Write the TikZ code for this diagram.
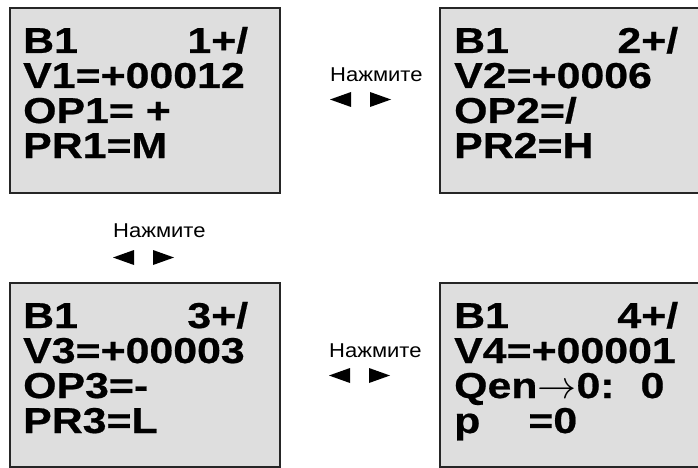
\documentclass[tikz,border=0pt]{standalone}
\usepackage{graphicx}
\usepackage{fontspec}
\setmainfont{Liberation Sans}
\newfontfamily\lcdfont{Liberation Sans}[FakeStretch=1.19, BoldFeatures={FakeBold=0.6}]
\newfontfamily\pressfont{Liberation Sans}[FakeStretch=1.1]
\usetikzlibrary{calc}

\tikzset{
  screen/.style={draw=black!85, line width=1.5pt, fill=black!13, minimum height=185pt,
    anchor=north west, inner sep=0pt, outer sep=0pt},
  lcdline/.style={anchor=base west, inner sep=0pt, font=\lcdfont\bfseries\fontsize{36}{36}\selectfont},
  presslabel/.style={anchor=base west, inner sep=0pt, font=\pressfont\fontsize{20}{20}\selectfont},
}
\newcommand\lcdarrow{\smash{\scalebox{3.9}{\normalsize$\rightarrow$}}}

\begin{document}
\begin{tikzpicture}[x=1pt,y=-1pt]
\useasboundingbox (0,0) rectangle (698,468);

% screens
\node[screen, minimum width=270pt] (scr1) at (10,8) {};
\node[screen, minimum width=264pt] (scr2) at (440,8) {};
\node[screen, minimum width=270pt, minimum height=184pt] (scr3) at (10,283) {};
\node[screen, minimum width=264pt, minimum height=184pt] (scr4) at (440,283) {};

% screen 1
\node[lcdline] (s1r1) at ($(scr1.north west)+(13,45)$) {\makebox[225pt][l]{B1\hfill1+/}};
\node[lcdline] (s1r2) at ($(scr1.north west)+(13,80)$) {V1=+00012};
\node[lcdline] (s1r3) at ($(scr1.north west)+(13,115)$) {OP1= +};
\node[lcdline] (s1r4) at ($(scr1.north west)+(13,150)$) {PR1=M};

% screen 2
\node[lcdline] (s2r1) at ($(scr2.north west)+(14,45)$) {\makebox[224pt][l]{B1\hfill2+/}};
\node[lcdline] (s2r2) at ($(scr2.north west)+(14,80)$) {V2=+0006};
\node[lcdline] (s2r3) at ($(scr2.north west)+(14,115)$) {OP2=/};
\node[lcdline] (s2r4) at ($(scr2.north west)+(14,150)$) {PR2=H};

% screen 3
\node[lcdline] (s3r1) at ($(scr3.north west)+(13,45)$) {\makebox[225pt][l]{B1\hfill3+/}};
\node[lcdline] (s3r2) at ($(scr3.north west)+(13,80)$) {V3=+00003};
\node[lcdline] (s3r3) at ($(scr3.north west)+(13,115)$) {OP3=-};
\node[lcdline] (s3r4) at ($(scr3.north west)+(13,150)$) {PR3=L};

% screen 4
\node[lcdline] (s4r1) at ($(scr4.north west)+(14,45)$) {\makebox[224pt][l]{B1\hfill4+/}};
\node[lcdline] (s4r2) at ($(scr4.north west)+(14,80)$) {V4=+00001};
\node[lcdline] (s4r3) at ($(scr4.north west)+(14,115)$) {Qen\lcdarrow0:\hspace{26pt}0};
\node[lcdline] (s4r4) at ($(scr4.north west)+(14,150)$) {p\hspace{48pt}=0};

% key hints
\node[presslabel] (press1) at (330,82) {Нажмите};
\node[presslabel] (press2) at (113,237) {Нажмите};
\node[presslabel] (press3) at (329,357) {Нажмите};
\foreach \lbl/\dy in {press1/17.5, press2/20.5, press3/18.5}{
  \fill ($(\lbl.base west)+(0,\dy)$) -- ++(21,-7.5) -- ++(0,15) -- cycle;
  \fill ($(\lbl.base west)+(61,\dy)$) -- ++(-21,-7.5) -- ++(0,15) -- cycle;
}
\end{tikzpicture}
\end{document}
